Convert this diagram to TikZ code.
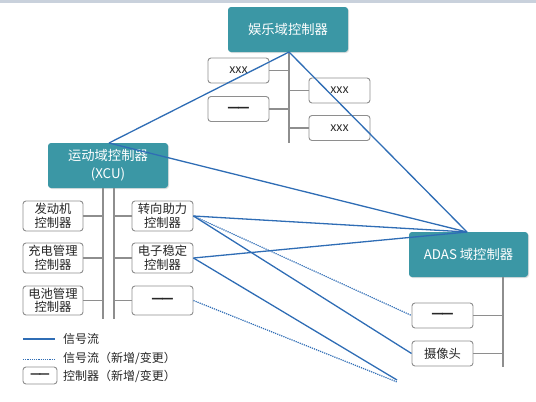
\documentclass[tikz,border=0pt]{standalone}
\usepackage{fontspec}
\setmainfont{Noto Sans CJK SC}
\newfontfamily\dashfont{DejaVu Sans}
\newcommand\ctrldash{{\dashfont\bfseries —\kern-2.5pt—}}
\usetikzlibrary{shadows}
\definecolor{teal1}{HTML}{3B97A5}
\definecolor{sig}{HTML}{2F6DB5}
\definecolor{busgray}{HTML}{8E8E8E}
\definecolor{topband}{HTML}{C9D1DC}
\tikzset{
  dombox/.style={draw=none, fill=teal1, rounded corners=3pt, text=white, font=\fontsize{13.3}{16}\selectfont, align=center, inner sep=0pt, drop shadow={opacity=0.25, shadow xshift=1pt, shadow yshift=-1pt}},
  ctrlbox/.style={draw=busgray, line width=0.9pt, fill=white, rounded corners=3pt, font=\fontsize{12.3}{14}\selectfont, align=center, inner sep=0pt, text=black!85},
  busline/.style={draw=busgray, line width=1.4pt},
  sigline/.style={draw=sig, line width=1.3pt},
  newsig/.style={draw=sig, line width=1.2pt, densely dotted},
  legtext/.style={anchor=west, font=\fontsize{12}{14}\selectfont, inner sep=0pt, text=black!85}
}
\begin{document}
\begin{tikzpicture}[x=1pt,y=-1pt]
\useasboundingbox (0,0) rectangle (536,402);
\fill[topband] (0,0) rectangle (536,2.5);

% domain controllers
\node[dombox, minimum width=120pt, minimum height=45pt] (ent) at (288,29.5) {娱乐域控制器};
\node[dombox, minimum width=120pt, minimum height=45pt, font=\fontsize{13.3}{18}\selectfont] (mot) at (108,165.5) {运动域控制器\\(XCU)};
\node[dombox, minimum width=119pt, minimum height=45pt] (adas) at (468.5,254.5) {ADAS 域控制器};

% entertainment sub-controllers
\node[ctrlbox, minimum width=61pt, minimum height=25pt] (e1) at (238.5,70.5) {xxx};
\node[ctrlbox, minimum width=61pt, minimum height=25pt] (e2) at (238.5,109) {\ctrldash};
\node[ctrlbox, minimum width=61pt, minimum height=25pt] (e3) at (339.5,90.5) {xxx};
\node[ctrlbox, minimum width=61pt, minimum height=25pt] (e4) at (339.5,128) {xxx};
\coordinate (ebusT) at (289,52);
\coordinate (ebusB) at (289,143);
\draw[busline] (ebusT) -- (ebusB);
\draw[busline] (e1.east) -- (e1.east -| ebusT);
\draw[busline] (e2.east) -- (e2.east -| ebusT);
\draw[busline] (e3.west) -- (e3.west -| ebusT);
\draw[busline] (e4.west) -- (e4.west -| ebusT);

% motion sub-controllers
\node[ctrlbox, minimum width=60pt, minimum height=30pt, font=\fontsize{12.3}{13.5}\selectfont] (m1) at (53,216) {发动机\\控制器};
\node[ctrlbox, minimum width=60pt, minimum height=30pt, font=\fontsize{12.3}{13.5}\selectfont] (m2) at (53,258) {充电管理\\控制器};
\node[ctrlbox, minimum width=60pt, minimum height=29pt, font=\fontsize{12.3}{13.5}\selectfont] (m3) at (53,300.5) {电池管理\\控制器};
\node[ctrlbox, minimum width=61pt, minimum height=30pt, font=\fontsize{12.3}{13.5}\selectfont] (m4) at (162.5,216) {转向助力\\控制器};
\node[ctrlbox, minimum width=61pt, minimum height=30pt, font=\fontsize{12.3}{13.5}\selectfont] (m5) at (162.5,258) {电子稳定\\控制器};
\node[ctrlbox, minimum width=61pt, minimum height=29pt] (m6) at (162.5,300.5) {\ctrldash};
\coordinate (mbusLT) at (103,188);
\coordinate (mbusLB) at (103,319);
\coordinate (mbusRT) at (114,188);
\coordinate (mbusRB) at (114,319);
\draw[busline] (mbusLT) -- (mbusLB);
\draw[busline] (mbusRT) -- (mbusRB);
\draw[busline] (m1.east) -- (m1.east -| mbusLT);
\draw[busline] (m2.east) -- (m2.east -| mbusLT);
\draw[busline] (m3.east) -- (m3.east -| mbusLT);
\draw[busline] (m4.west) -- (m4.west -| mbusRT);
\draw[busline] (m5.west) -- (m5.west -| mbusRT);
\draw[busline] (m6.west) -- (m6.west -| mbusRT);

% ADAS sub-controllers
\node[ctrlbox, minimum width=61pt, minimum height=25pt] (a1) at (442.5,315.5) {\ctrldash};
\node[ctrlbox, minimum width=61pt, minimum height=25pt] (a2) at (442.5,353.5) {摄像头};
\coordinate (abusT) at (503,277);
\coordinate (abusB) at (503,367);
\draw[busline] (abusT) -- (abusB);
\draw[busline] (a1.east) -- (a1.east -| abusT);
\draw[busline] (a2.east) -- (a2.east -| abusT);

% signal flows
\coordinate (entS) at (289,52);
\coordinate (motN) at (109,143);
\coordinate (adasN) at (467,232);
\coordinate (free1) at (397,380);
\coordinate (free2) at (397,382);
\draw[sigline] (entS) -- (motN);
\draw[sigline] (entS) -- (adasN);
\draw[sigline] (motN) -- (adasN);
\draw[sigline] (m4.east) -- (adasN);
\draw[sigline] (m5.east) -- (adasN);
\draw[sigline] (m4.east) -- (a2.west);
\draw[sigline] (m5.east) -- (free1);
\draw[newsig] (m4.east) -- (a1.west);
\draw[newsig] (m6.east) -- (free2);

% legend
\coordinate (l1a) at (23,339);
\coordinate (l1b) at (55,339);
\coordinate (l2a) at (23,359);
\coordinate (l2b) at (55,359);
\draw[sigline, line width=1.1pt] (l1a) -- (l1b);
\draw[newsig, line width=1pt] (l2a) -- (l2b);
\node[ctrlbox, minimum width=34pt, minimum height=17pt, font=\fontsize{11}{12}\selectfont] (l3) at (40,375.5) {\ctrldash};
\node[legtext] (t1) at (63,339) {信号流};
\node[legtext] (t2) at (63,358) {信号流（新增/变更）};
\node[legtext] (t3) at (63,376) {控制器（新增/变更）};
\end{tikzpicture}
\end{document}
